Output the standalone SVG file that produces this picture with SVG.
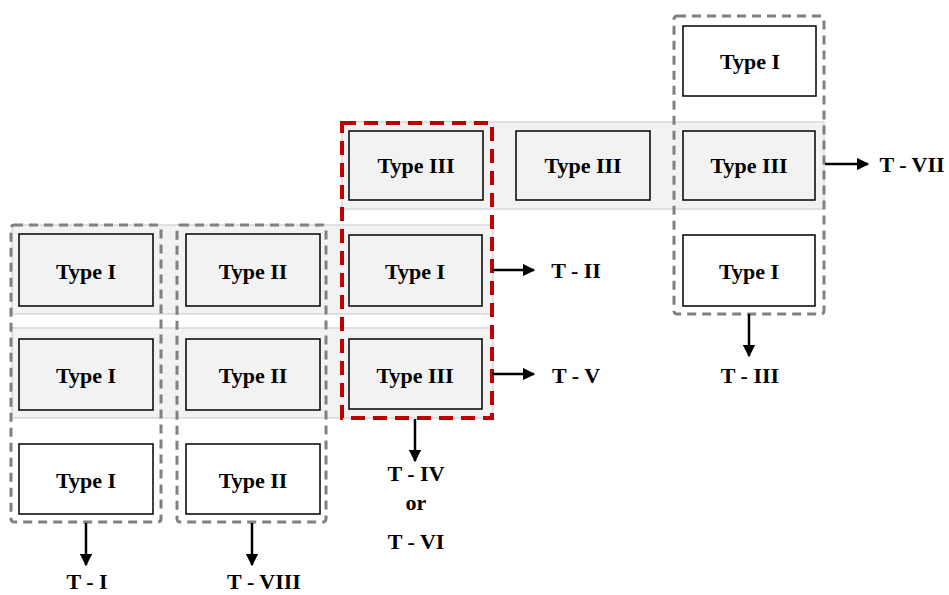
<svg xmlns="http://www.w3.org/2000/svg" width="949" height="595" viewBox="0 0 949 595">
<defs>
<style>
.band{fill:#f2f2f2;stroke:#d9d9d9;stroke-width:1.5}
.box{stroke:#000;stroke-width:1.5}
.g{fill:#f2f2f2}
.w{fill:#fff}
.grp{fill:none;stroke:#808080;stroke-width:3;stroke-dasharray:9,6}
.red{fill:none;stroke:#c00000;stroke-width:4;stroke-dasharray:14,8}
text{font-family:"Liberation Serif","Times New Roman",serif;font-weight:bold;font-size:22px;text-anchor:middle;fill:#000}
.arr{stroke:#000;stroke-width:2.5;fill:none;marker-end:url(#ah)}
</style>
<marker id="ah" viewBox="0 0 10 10" refX="9" refY="5" markerWidth="5" markerHeight="5" markerUnits="strokeWidth" orient="auto"><path d="M0,0 L10,5 L0,10 z" fill="#000"/></marker>
</defs>
<rect width="949" height="595" fill="#fff"/>
<g id="bands">
<rect class="band" x="342" y="122" width="482" height="87"/>
<rect class="band" x="12" y="225" width="481" height="89"/>
<rect class="band" x="12" y="328" width="481" height="90"/>
</g>
<g id="n-c1r1"><rect class="box g" x="19" y="234" width="134" height="72"/><text x="86" y="279">Type I</text></g>
<g id="n-c1r2"><rect class="box g" x="19" y="339" width="134" height="71"/><text x="86" y="383">Type I</text></g>
<g id="n-c1r3"><rect class="box w" x="19" y="444" width="134" height="70"/><text x="86" y="488">Type I</text></g>
<g id="n-c2r1"><rect class="box g" x="186" y="234" width="134" height="72"/><text x="253" y="279">Type II</text></g>
<g id="n-c2r2"><rect class="box g" x="186" y="339" width="134" height="71"/><text x="253" y="383">Type II</text></g>
<g id="n-c2r3"><rect class="box w" x="186" y="444" width="134" height="70"/><text x="253" y="488">Type II</text></g>
<g id="n-c3r0"><rect class="box g" x="349" y="131" width="134" height="69"/><text x="416" y="173">Type III</text></g>
<g id="n-c3r1"><rect class="box g" x="349" y="235" width="133" height="71"/><text x="415" y="279">Type I</text></g>
<g id="n-c3r2"><rect class="box g" x="349" y="339" width="133" height="70"/><text x="415" y="383">Type III</text></g>
<g id="n-c4r0"><rect class="box g" x="516" y="131" width="134" height="69"/><text x="583" y="173">Type III</text></g>
<g id="n-c5top"><rect class="box w" x="683" y="26" width="133" height="70"/><text x="750" y="69">Type I</text></g>
<g id="n-c5r0"><rect class="box g" x="683" y="131" width="132" height="69"/><text x="749" y="173">Type III</text></g>
<g id="n-c5r1"><rect class="box w" x="683" y="235" width="132" height="71"/><text x="749" y="279">Type I</text></g>
<g id="groups">
<rect class="grp" x="11" y="225" width="150" height="297" rx="3"/>
<rect class="grp" x="177" y="225" width="149" height="297" rx="3"/>
<rect class="grp" x="674" y="16" width="150" height="298" rx="3"/>
<rect class="red" x="342" y="123" width="150" height="295"/>
</g>
<g id="connectors">
<line class="arr" x1="492" y1="270" x2="534" y2="270"/>
<line class="arr" x1="492" y1="374" x2="534" y2="374"/>
<line class="arr" x1="825" y1="164" x2="868" y2="164"/>
<line class="arr" x1="86" y1="523" x2="86" y2="565"/>
<line class="arr" x1="252" y1="523" x2="252" y2="565"/>
<line class="arr" x1="415" y1="419" x2="415" y2="461"/>
<line class="arr" x1="749" y1="314" x2="749" y2="356"/>
</g>
<g id="labels">
<text x="576" y="278">T - II</text>
<text x="576" y="383">T - V</text>
<text x="912" y="172">T - VII</text>
<text x="750" y="383">T - III</text>
<text x="87" y="589">T - I</text>
<text x="264" y="589">T - VIII</text>
<text x="416" y="481">T - IV</text>
<text x="416" y="510">or</text>
<text x="416" y="549">T - VI</text>
</g>
</svg>
